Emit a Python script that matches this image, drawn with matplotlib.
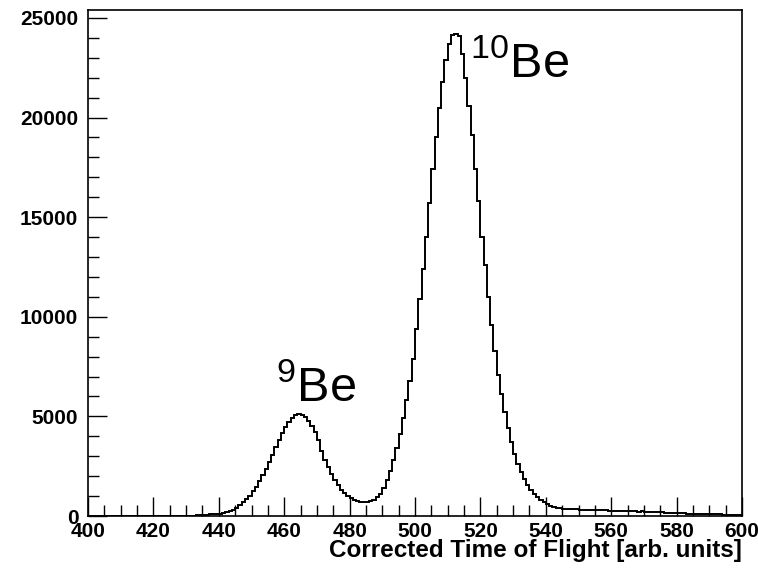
"""Corrected time of flight spectrum for 9Be / 10Be, drawn ROOT style."""

import matplotlib
matplotlib.use('Agg')
import matplotlib.pyplot as plt
import numpy as np

plt.rcParams['font.family'] = ['Liberation Sans', 'DejaVu Sans']
plt.rcParams['mathtext.fontset'] = 'custom'
plt.rcParams['mathtext.rm'] = 'Liberation Sans'

# bin edges 400..600, one unit per bin
tof_lo = 400
tof_hi = 600
counts = [
    0, 0, 0, 0, 0, 0, 0, 0, 0, 0,                                           # 400
    0, 0, 0, 0, 0, 0, 0, 0, 0, 0,                                           # 410
    0, 0, 0, 0, 0, 0, 0, 0, 0, 0,                                           # 420
    0, 0, 20, 40, 40, 60, 60, 80, 90, 100,                                  # 430
    120, 150, 200, 250, 320, 420, 540, 680, 850, 1030,                      # 440
    1250, 1480, 1750, 2050, 2350, 2700, 3050, 3450, 3800, 4150,             # 450
    4450, 4700, 4900, 5050, 5100, 5050, 4950, 4750, 4500, 4200,             # 460
    3800, 3250, 2800, 2450, 2100, 1800, 1550, 1330, 1150, 1000,             # 470
    880, 790, 730, 700, 690, 700, 740, 820, 950, 1120,                      # 480
    1400, 1800, 2250, 2800, 3400, 4100, 4900, 5800, 6800, 7900,             # 490
    9400, 10900, 12400, 14000, 15700, 17400, 19000, 20500, 21800, 22900,    # 500
    23700, 24150, 24200, 24100, 23200, 22000, 20600, 19100, 17400, 15800,   # 510
    14000, 12600, 11000, 9600, 8300, 7100, 6100, 5200, 4400, 3700,          # 520
    3100, 2600, 2200, 1850, 1550, 1300, 1100, 930, 800, 680,                # 530
    580, 500, 450, 410, 380, 360, 350, 340, 330, 330,                       # 540
    320, 310, 320, 300, 310, 290, 300, 280, 290, 270,                       # 550
    270, 260, 270, 250, 240, 250, 230, 240, 220, 230,                       # 560
    210, 220, 200, 210, 190, 180, 170, 160, 150, 150,                       # 570
    140, 130, 130, 120, 120, 110, 110, 100, 100, 90,                        # 580
    90, 80, 80, 80, 70, 70, 60, 60, 60, 50,                                 # 590
]
xlabel = 'Corrected Time of Flight [arb. units]'
peak_labels = ['$^{9}$Be', '$^{10}$Be']
peak_label_x = [457.5, 516.8]
peak_label_y = [5720, 21990]

edges = np.arange(tof_lo, tof_hi + 1)

fig = plt.figure(figsize=(7.58, 5.70), dpi=100)
ax = fig.add_axes([0.1161, 0.0947, 0.9789 - 0.1161, 0.9825 - 0.0947])

ax.stairs(counts, edges, color='black', linewidth=1.4)

ax.set_xlim(tof_lo, tof_hi)
ax.set_ylim(0, 25400)

ax.set_xticks(np.arange(400, 601, 20))
ax.set_xticks(np.arange(400, 601, 5), minor=True)
ax.set_yticks(np.arange(0, 25001, 5000))
ax.set_yticks(np.arange(0, 25001, 1000), minor=True)

ax.tick_params(which='both', direction='in', top=False, right=False,
               width=1.0, labelsize=15)
ax.tick_params(which='major', length=14)
ax.tick_params(which='minor', length=8)
ax.tick_params(axis='x', pad=4)
ax.tick_params(axis='y', pad=7)
for lab in ax.get_xticklabels() + ax.get_yticklabels():
    lab.set_fontweight('bold')
for s in ax.spines.values():
    s.set_linewidth(1.2)

ax.set_xlabel(xlabel, fontsize=17.5, fontweight='bold', loc='right', labelpad=-1)

for txt, x, y in zip(peak_labels, peak_label_x, peak_label_y):
    ax.text(x, y, txt, fontsize=35, ha='left', va='baseline')

fig.savefig('out.png', dpi=100)
